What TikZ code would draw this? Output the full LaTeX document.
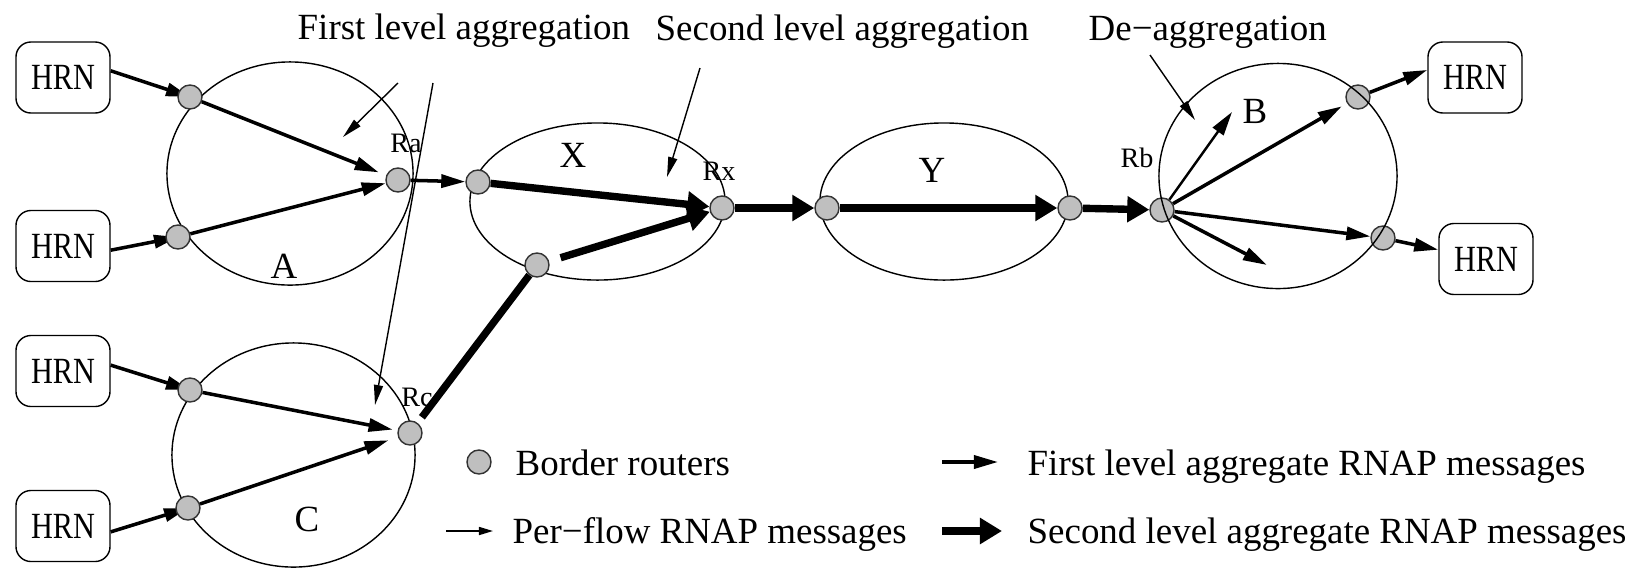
\documentclass[tikz,border=0pt]{standalone}
\usepackage{fontspec}
\setmainfont{Liberation Serif}
\newfontfamily\hrnfont[FakeStretch=0.82]{Liberation Serif}
\usetikzlibrary{arrows.meta}

\tikzset{
  router/.style={circle,draw=black!80,fill=black!25,inner sep=0pt,minimum size=0.24cm},
  hrn/.style={draw,rounded corners=0.15cm,minimum width=0.94cm,minimum height=0.71cm,inner sep=0pt,font=\hrnfont\fontsize{10.5}{12}\selectfont},
  region/.style={draw,line width=0.4pt},
  flowarr/.style={line width=0.45pt,-{Triangle[length=0.14cm,width=0.08cm]}},
  firstarr/.style={line width=1pt,-{Triangle[length=0.24cm,width=0.13cm]}},
  secondarr/.style={line width=2.1pt,-{Triangle[length=0.22cm,width=0.25cm]}},
  notearr/.style={line width=0.4pt,-{Triangle[length=0.2cm,width=0.09cm]}},
  rname/.style={font=\fontsize{8}{9}\selectfont,anchor=base,inner sep=0pt},
  areaname/.style={anchor=base,inner sep=0pt},
  textline/.style={anchor=base west,inner sep=0pt},
}

\begin{document}
\begin{tikzpicture}[x=0.01cm,y=-0.01cm,font=\fontsize{10.5}{12}\selectfont]
\useasboundingbox (0,0) rectangle (1645,569);
% domains
\draw[region] (290,173.5) ellipse [x radius=1.23cm,y radius=1.115cm];
\draw[region] (293.5,455) ellipse [x radius=1.215cm,y radius=1.12cm];
\draw[region] (597.5,201.5) ellipse [x radius=1.275cm,y radius=0.785cm];
\draw[region] (944,201.5) ellipse [x radius=1.24cm,y radius=0.785cm];

% hosts
\node[hrn] (h1) at (63,77.5) {HRN};
\node[hrn] (h2) at (63,246) {HRN};
\node[hrn] (h3) at (63,371) {HRN};
\node[hrn] (h4) at (63,526) {HRN};
\node[hrn] (h5) at (1475,77.5) {HRN};
\node[hrn] (h6) at (1486,259) {HRN};

% messages
\draw[firstarr] (h1.8) -- (190,97) coordinate (a1c);
\draw[firstarr] (h2.-5) -- (178,237) coordinate (a2c);
\draw[firstarr] (h3.7) -- (190,390) coordinate (c1c);
\draw[firstarr] (h4.-7) -- (188,508) coordinate (c2c);

% border routers
\node[router] (a1) at (a1c) {};
\node[router] (a2) at (a2c) {};
\node[router] (ra) at (398,180) {};
\node[router] (c1) at (c1c) {};
\node[router] (c2) at (c2c) {};
\node[router] (rc) at (410,433) {};
\node[router] (x1) at (478,182) {};
\node[router] (x2) at (537,265) {};
\node[router] (rx) at (722,208) {};
\node[router] (y1) at (827,208) {};
\node[router] (y2) at (1070,208) {};
\node[router] (rb) at (1162,210) {};
\node[router] (b1) at (1358,97) {};
\node[router] (b2) at (1383,238) {};
\draw[region] (1278,176) ellipse [x radius=1.19cm,y radius=1.125cm];

\node[rname] (lra) at (406,152) {Ra};
\node[rname] (lrx) at (719,180) {Rx};
\node[rname] (lrb) at (1137,167) {Rb};
\node[rname] (lrc) at (417,406) {Rc};
\node[areaname] (la) at (284,278) {A};
\node[areaname] (lx) at (573,167) {X};
\node[areaname] (ly) at (932,182) {Y};
\node[areaname] (lb) at (1255,123) {B};
\node[areaname] (lc) at (307,531) {C};

\draw[firstarr,shorten >=0.08cm] (a1) -- (ra);
\draw[firstarr] (a2) -- (ra);
\draw[firstarr,shorten >=0.05cm] (c1) -- (rc);
\draw[firstarr,shorten >=0.1cm] (c2) -- (rc);
\draw[firstarr] (ra) -- (x1);
\draw[secondarr] (x1) -- (rx);
\draw[secondarr,shorten <=0.12cm] (x2) -- (rx);
\draw[line width=2.1pt,shorten <=0.07cm] (rc) -- (x2);
\draw[secondarr] (rx) -- (y1);
\draw[secondarr] (y1) -- (y2);
\draw[secondarr] (y2) -- (rb);
\coordinate (bt) at (1232,112);
\coordinate (bs) at (1267,265);
\draw[firstarr,line width=0.7pt] (rb) -- (bt);
\draw[firstarr,shorten >=0.06cm] (rb) -- (b1);
\draw[firstarr] (rb) -- (b2);
\draw[firstarr] (rb) -- (bs);
\draw[firstarr] (b1) -- (h5.171);
\draw[firstarr] (b2) -- (h6.169);

% titles
\node[textline] (t1) at (297,39) {First level aggregation};
\node[textline] (t2) at (655,40) {Second level aggregation};
\node[textline] (t3) at (1088,40) {De−aggregation};
\coordinate (n1s) at (398,83);  \coordinate (n1e) at (343,137);
\coordinate (n2s) at (433,83);  \coordinate (n2e) at (375,405);
\coordinate (n3s) at (700,68);  \coordinate (n3e) at (667,177);
\coordinate (n4s) at (1150,55); \coordinate (n4e) at (1195,120);
\draw[notearr] (n1s) -- (n1e);
\draw[notearr] (n2s) -- (n2e);
\draw[notearr] (n3s) -- (n3e);
\draw[notearr] (n4s) -- (n4e);

% legend
\node[router] (lgr) at (479,462) {};
\node[textline] (lg1) at (515,475) {Border routers};
\node[textline] (lg2) at (512,543) {Per−flow RNAP messages};
\node[textline] (lg3) at (1027,475) {First level aggregate RNAP messages};
\node[textline] (lg4) at (1027,543) {Second level aggregate RNAP messages};
\coordinate (k1) at (446,531); \coordinate (k2) at (493,531);
\coordinate (k3) at (942,462); \coordinate (k4) at (998,462);
\coordinate (k5) at (942,531); \coordinate (k6) at (1002,531);
\draw[flowarr] (k1) -- (k2);
\draw[firstarr] (k3) -- (k4);
\draw[secondarr] (k5) -- (k6);
\end{tikzpicture}
\end{document}
